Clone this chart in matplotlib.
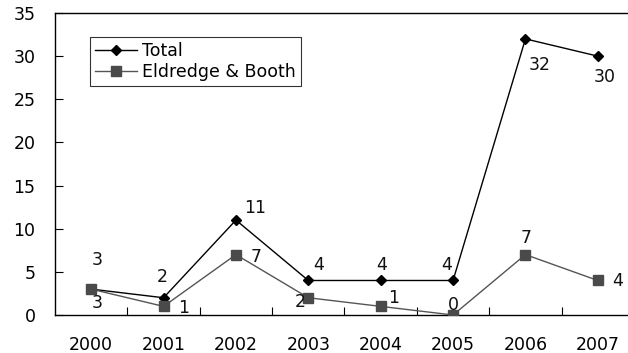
import matplotlib
matplotlib.use("Agg")
import matplotlib.pyplot as plt
from matplotlib.ticker import FixedLocator

years = ["2000", "2001", "2002", "2003", "2004", "2005", "2006", "2007"]
total = [3, 2, 11, 4, 4, 4, 32, 30]
eldredge_booth = [3, 1, 7, 2, 1, 0, 7, 4]

# label offsets in pixels (dx, dy) for each point
total_offsets = [(6, 29), (-1, 21), (19, 12), (10, 15), (1, 15), (-6, 15), (14, -26), (7, -21)]
eb_offsets = [(6, -14), (20, -2), (20, -2), (-8, -4), (13, 8), (0, 10), (1, 17), (20, -1)]

plt.rcParams['font.family'] = ['DejaVu Sans']
FS = 12.5

fig = plt.figure(figsize=(6.28, 3.53), dpi=100)
ax = fig.add_axes([55 / 628, 38 / 353, 579 / 628, 302 / 353])

x = list(range(len(years)))
ax.plot(x, total, color='black', lw=1.0, marker='D', markersize=5.5,
        markerfacecolor='black', markeredgecolor='black', label='Total', zorder=3)
ax.plot(x, eldredge_booth, color='#555555', lw=1.0, marker='s', markersize=7,
        markerfacecolor='#4a4a4a', markeredgecolor='#4a4a4a', label='Eldredge & Booth', zorder=3)

for xi, v, (dx, dy) in zip(x, total, total_offsets):
    ax.annotate(str(v), (xi, v), xytext=(dx, dy), textcoords='offset pixels',
                ha='center', va='center', fontsize=FS, color='#111111')
for xi, v, (dx, dy) in zip(x, eldredge_booth, eb_offsets):
    ax.annotate(str(v), (xi, v), xytext=(dx, dy), textcoords='offset pixels',
                ha='center', va='center', fontsize=FS, color='#111111')

ax.set_xlim(-0.5, len(years) - 0.5)
ax.set_ylim(0, 35)
ax.set_yticks(range(0, 36, 5))
ax.set_xticks(x)
ax.set_xticklabels(years)
ax.xaxis.set_minor_locator(FixedLocator([i + 0.5 for i in range(len(years) - 1)]))

ax.tick_params(axis='x', which='major', length=0, pad=15, labelsize=FS)
ax.tick_params(axis='x', which='minor', direction='in', length=6, width=0.8)
ax.tick_params(axis='y', direction='in', length=6, width=0.8, pad=14, labelsize=FS)

for side in ['left', 'bottom', 'top']:
    ax.spines[side].set_linewidth(1.0)
ax.spines['right'].set_visible(False)

leg = ax.legend(loc='upper left', bbox_to_anchor=(0.06, 0.92), borderaxespad=0,
                fontsize=FS, frameon=True, fancybox=False, handlelength=2.4,
                handletextpad=0.3, labelspacing=0.15, borderpad=0.3)
leg.get_frame().set_edgecolor('black')
leg.get_frame().set_linewidth(0.8)

fig.savefig('out.png', dpi=100)
